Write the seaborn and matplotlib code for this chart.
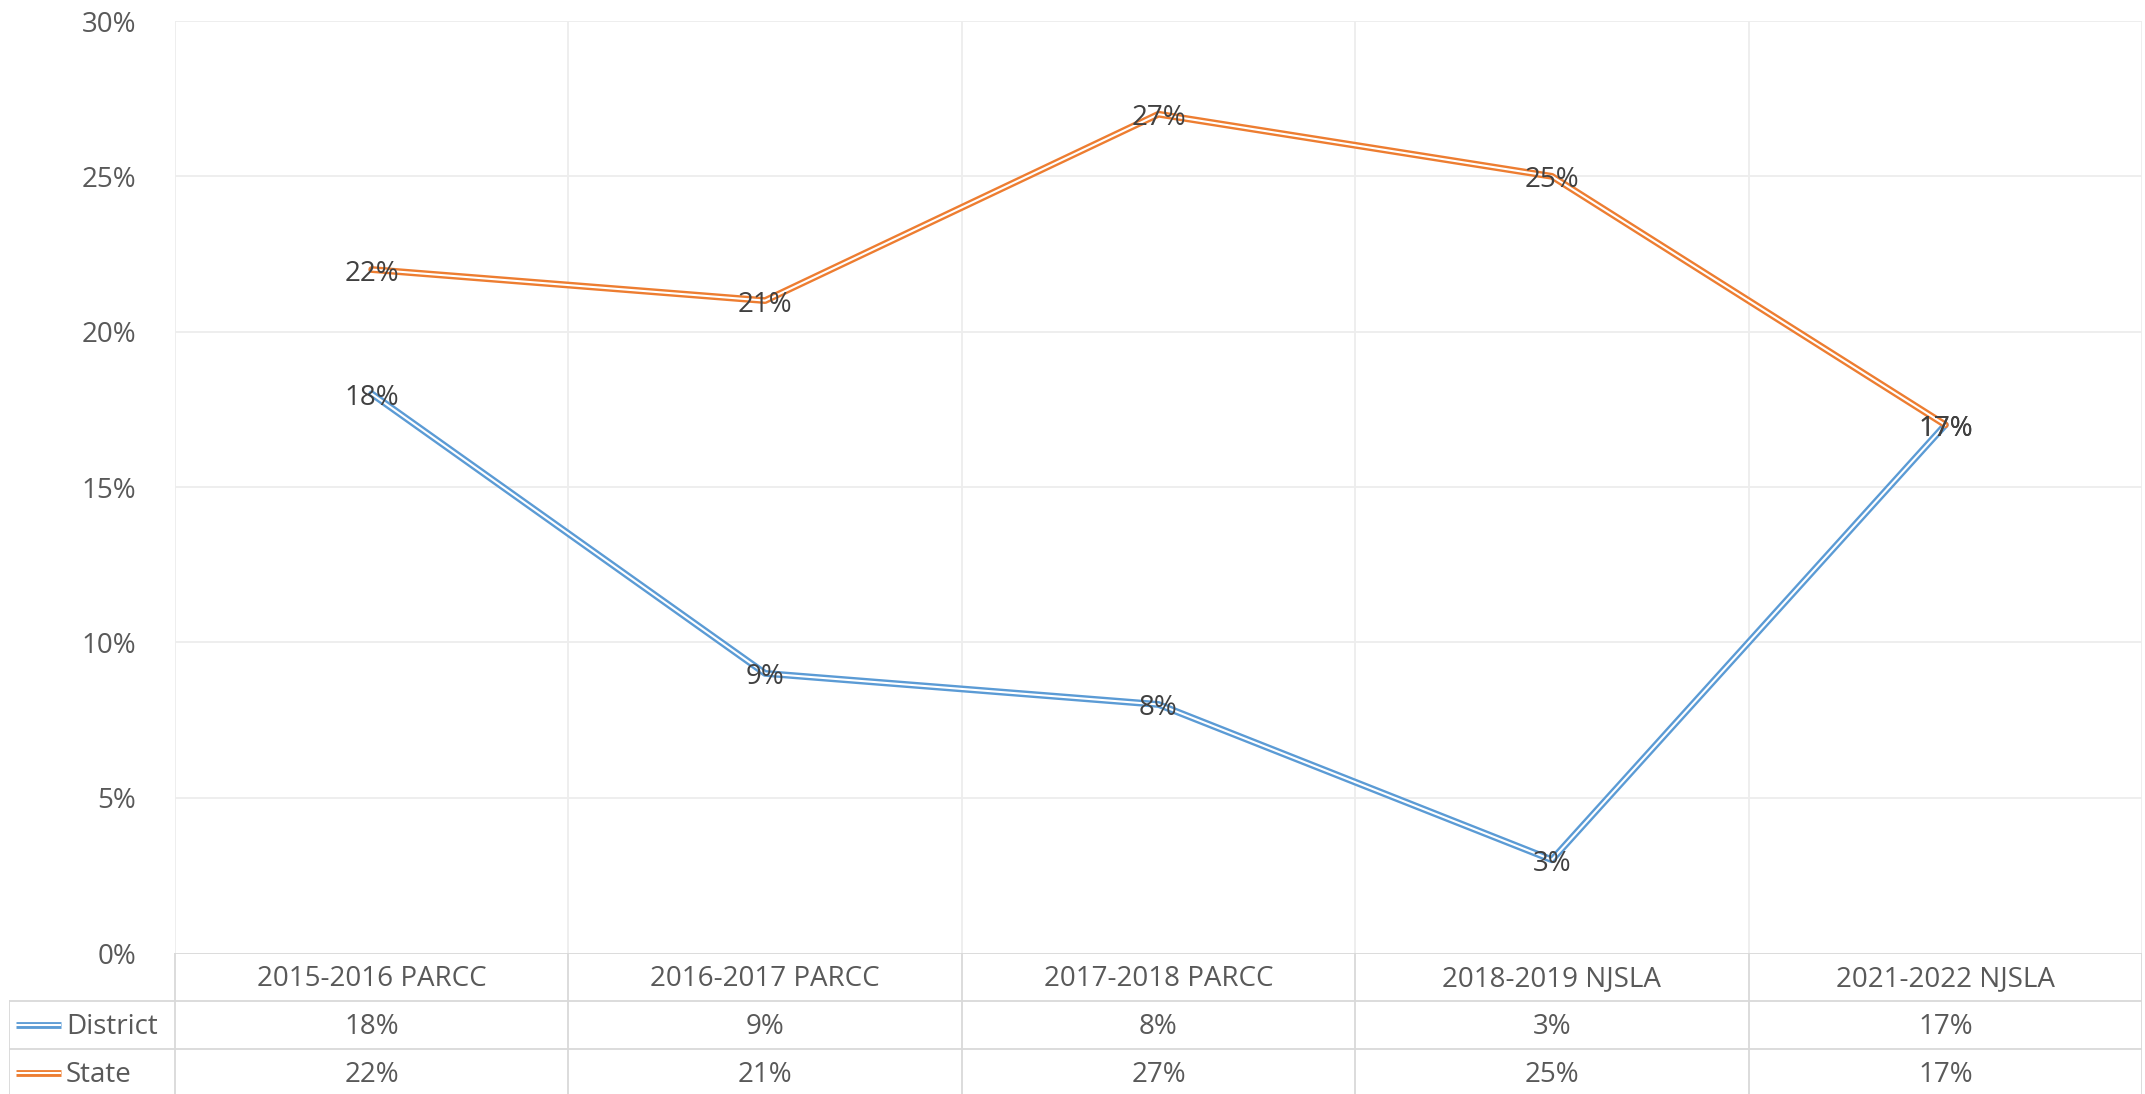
import numpy as np
import pandas as pd
import matplotlib
matplotlib.use("Agg")
import matplotlib.pyplot as plt
import matplotlib.transforms as mtransforms
import seaborn as sns

# chart data
categories = ["2015-2016 PARCC", "2016-2017 PARCC", "2017-2018 PARCC",
              "2018-2019 NJSLA", "2021-2022 NJSLA"]
district = [18, 9, 8, 3, 17]
state = [22, 21, 27, 25, 17]
series_names = ["District", "State"]
series_colors = {"District": "#5B9BD5", "State": "#ED7D31"}
yticks = [0, 5, 10, 15, 20, 25, 30]

sns.set_theme(style="white")
plt.rcParams['font.family'] = ['Open Sans', 'DejaVu Sans']

df = pd.DataFrame({
    "x": list(range(len(categories))) * 2,
    "value": district + state,
    "series": ["District"] * len(district) + ["State"] * len(state),
})

W, H = 2145, 1094
fig = plt.figure(figsize=(W / 100, H / 100), dpi=100)

# pixel layout
left, right, top, axis_bottom = 175, 2142, 21, 953
row_h = 48
grid_c = "#EDEDED"
table_c = "#D9D9D9"
tick_c = "#595959"
label_c = "#404040"
fs = 20

ax = fig.add_axes([left / W, (H - axis_bottom) / H, (right - left) / W, (axis_bottom - top) / H])
n = len(categories)
ax.set_xlim(-0.5, n - 0.5)
ax.set_ylim(0, 30)

# nudge data labels a little below the point, like the original
lab_tr = ax.transData + mtransforms.ScaledTranslation(0, -4 / 100, fig.dpi_scale_trans)

for s in series_names:
    sub = df[df["series"] == s]
    sns.lineplot(data=sub, x="x", y="value", color=series_colors[s], lw=4.9,
                 ax=ax, legend=False, zorder=3)
    sns.lineplot(data=sub, x="x", y="value", color="white", lw=1.5,
                 ax=ax, legend=False, zorder=4)
    for xi, v in zip(sub["x"], sub["value"]):
        ax.text(xi, v, f"{v}%", ha="center", va="center", fontsize=fs,
                color=label_c, zorder=5, transform=lab_tr)

ax.set_yticks(yticks)
ax.set_yticklabels([f"{t}%" for t in yticks], fontsize=fs, color=tick_c)
ax.tick_params(axis="y", length=0, pad=28)
ax.set_xticks([])
ax.set_xlabel("")
ax.set_ylabel("")
for t in yticks[1:]:
    ax.axhline(t, color=grid_c, lw=1.3, zorder=1)
for b in np.arange(-0.5, n, 1.0):
    ax.axvline(b, color=grid_c, lw=1.3, zorder=1)
for sp in ax.spines.values():
    sp.set_visible(False)

# data table under the plot
tleft = 9
unit = (right - left) / n
tab = fig.add_axes([tleft / W, 0, (right - tleft) / W, (H - axis_bottom) / H])
x0 = -0.5 - (left - tleft) / unit
tab.set_xlim(x0, n - 0.5)
tab.set_ylim((H - axis_bottom) / row_h, 0)
tab.axis("off")
txt_tr = tab.transData + mtransforms.ScaledTranslation(0, -2 / 100, fig.dpi_scale_trans)

tab.plot([-0.5, n - 0.5], [0, 0], color=table_c, lw=1.3)
for r in [1, 2]:
    tab.plot([x0, n - 0.5], [r, r], color=table_c, lw=1.3)
tab.plot([x0, x0], [1, 3], color=table_c, lw=1.3)
for b in np.arange(-0.5, n, 1.0):
    tab.plot([b, b], [0, 3], color=table_c, lw=1.3)

for i, c in enumerate(categories):
    tab.text(i, 0.5, c, ha="center", va="center", fontsize=fs, color=tick_c,
             transform=txt_tr)

key_l = x0 + 7 / unit
key_r = x0 + 52 / unit
for r, (s, vals) in enumerate(zip(series_names, [district, state]), start=1):
    tab.plot([key_l, key_r], [r + 0.5, r + 0.5], color=series_colors[s], lw=4.9,
             solid_capstyle="butt")
    tab.plot([key_l, key_r], [r + 0.5, r + 0.5], color="white", lw=1.5,
             solid_capstyle="butt")
    tab.text(key_r + 5 / unit, r + 0.5, s, ha="left", va="center", fontsize=fs,
             color=tick_c, transform=txt_tr)
    for i, v in enumerate(vals):
        tab.text(i, r + 0.5, f"{v}%", ha="center", va="center", fontsize=fs,
                 color=tick_c, transform=txt_tr)

fig.savefig("out.png", dpi=100, facecolor="white")
